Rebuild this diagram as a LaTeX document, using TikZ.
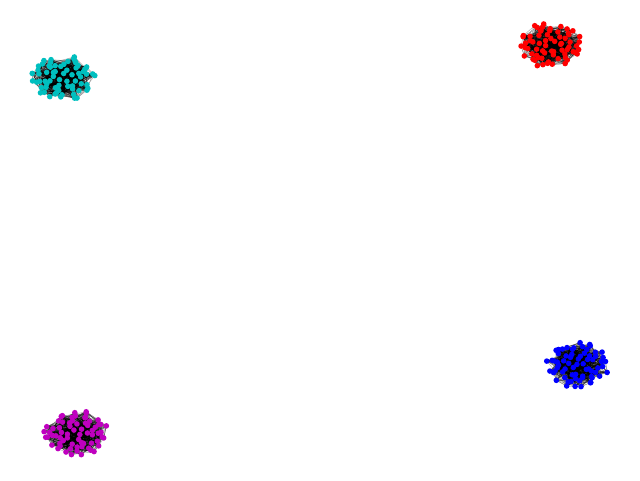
\documentclass[tikz,border=0pt]{standalone}
\definecolor{cyanc}{RGB}{0,191,191}
\definecolor{redc}{RGB}{255,0,0}
\definecolor{bluec}{RGB}{0,0,255}
\definecolor{magc}{RGB}{191,0,191}
\tikzset{
  graphedge/.style={draw=black, opacity=0.3, line width=0.5pt},
  graphdot/.style={circle, fill=#1, draw=none, inner sep=0pt, minimum size=5.6pt}
}
\begin{document}
\begin{tikzpicture}[x=1pt,y=-1pt]
\useasboundingbox[fill=white] (0,0) rectangle (640,480);
\pgfmathsetseed{4242}
\foreach \cl/\cx/\cy/\col/\ph in {a/63/78/cyanc/0, b/550/45/redc/40, c/578/365/bluec/80, d/76/433/magc/120} {
  \foreach \i in {1,...,68} {
    \pgfmathsetmacro\rr{min(1,pow((\i-0.5)/68,0.45)*1.0+0.07*rand)}
    \pgfmathsetmacro\tt{\ph+137.508*\i+14*rand}
    \coordinate (\cl-\i) at ({\cx+32*\rr*cos(\tt)},{\cy+22.5*\rr*sin(\tt)});
  }
  \foreach \j in {1,...,1000} {
    \pgfmathrandominteger{\pp}{1}{68}
    \pgfmathrandominteger{\qq}{1}{68}
    \draw[graphedge] (\cl-\pp) -- (\cl-\qq);
  }
  \foreach \i in {1,...,68} {
    \node[graphdot=\col] (\cl-n\i) at (\cl-\i) {};
  }
}
\end{tikzpicture}
\end{document}
